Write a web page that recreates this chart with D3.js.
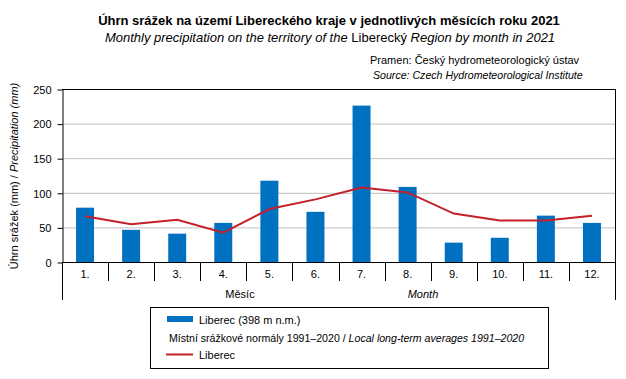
<!DOCTYPE html>
<html><head><meta charset="utf-8">
<script src="https://cdn.jsdelivr.net/npm/d3@7"></script>
<style>body{margin:0;background:#fff}svg text{font-family:"Liberation Sans",Arial,sans-serif;fill:#000}</style>
</head><body><svg id="c" width="626" height="379"></svg>
<script>
const months = ["1.","2.","3.","4.","5.","6.","7.","8.","9.","10.","11.","12."];
const precip2021 = [78.5,46.5,41,56.5,117.5,72.5,226,108.5,28,35,67,56.5];
const normals = [66,54.5,61,42.5,76.5,90.5,107.5,100.5,70,60,60,67];
const yTicks = [0,50,100,150,200,250];

const svg = d3.select("#c");
const L=62,R=615,T=89,B=262;
const x = d3.scaleBand().domain(months).range([L,R]).paddingInner(0).paddingOuter(0);
const y = d3.scaleLinear().domain([0,250]).range([B,T]);

svg.append("g").selectAll("line").data(yTicks.filter(d=>d>0&&d<250)).join("line")
  .attr("x1",L).attr("x2",R).attr("y1",d=>y(d)+0.5).attr("y2",d=>y(d)+0.5)
  .attr("stroke","#bfbfbf").attr("stroke-width",1);

const bw = x.bandwidth()*0.39;
svg.append("g").selectAll("rect").data(precip2021).join("rect")
  .attr("x",(d,i)=>x(months[i])+x.bandwidth()/2-bw/2)
  .attr("width",bw).attr("y",d=>y(d)).attr("height",d=>B-y(d))
  .attr("fill","#0070c0");

svg.append("path").datum(normals)
  .attr("d",d3.line().x((d,i)=>x(months[i])+x.bandwidth()/2).y(d=>y(d)))
  .attr("fill","none").attr("stroke","#c3202a").attr("stroke-width",2);

svg.append("line").attr("x1",L).attr("x2",R+0.5).attr("y1",T+0.5).attr("y2",T+0.5).attr("stroke","#000");
svg.append("line").attr("x1",R+0.5).attr("x2",R+0.5).attr("y1",T).attr("y2",B).attr("stroke","#000");

const ya = svg.append("g").attr("transform",`translate(${L+0.5},0.5)`)
  .call(d3.axisLeft(y).tickValues(yTicks).tickSize(5).tickPadding(6).tickSizeOuter(0));
ya.select(".domain").attr("stroke","#000");
ya.selectAll("text").style("font-size","11px").attr("dy","0.35em");

svg.append("line").attr("x1",L).attr("x2",R+1).attr("y1",B+0.5).attr("y2",B+0.5).attr("stroke","#000");
const divs = months.map(m=>x(m)).concat([R]);
svg.append("g").selectAll("line").data(divs).join("line")
  .attr("x1",d=>Math.round(d)+0.5).attr("x2",d=>Math.round(d)+0.5)
  .attr("y1",B).attr("y2",(d,i)=>(i===0||i===divs.length-1)?300:281)
  .attr("stroke","#000");
svg.append("g").selectAll("text").data(months).join("text")
  .attr("x",m=>x(m)+x.bandwidth()/2).attr("y",278).attr("text-anchor","middle")
  .style("font-size","11px").text(d=>d);

svg.append("text").attr("x",240).attr("y",298).attr("text-anchor","middle").style("font-size","11px").text("Měsíc");
svg.append("text").attr("x",423).attr("y",298).attr("text-anchor","middle").style("font-size","11px").style("font-style","italic").text("Month");

const yt = svg.append("text").attr("transform","translate(18,176) rotate(-90)").attr("text-anchor","middle").style("font-size","11px");
yt.append("tspan").text("Úhrn srážek (mm) / ");
yt.append("tspan").style("font-style","italic").text("Precipitation (mm)");

svg.append("text").attr("x",329).attr("y",25).attr("text-anchor","middle").style("font-size","13px").style("font-weight","bold").text("Úhrn srážek na území Libereckého kraje v jednotlivých měsících roku 2021");
const st = svg.append("text").attr("x",330).attr("y",42).attr("text-anchor","middle").style("font-size","13px");
st.append("tspan").style("font-style","italic").text("Monthly precipitation on the territory of the ");
st.append("tspan").text("Liberecký");
st.append("tspan").style("font-style","italic").text(" Region by month in 2021");

svg.append("text").attr("x",370).attr("y",64).style("font-size","11px").text("Pramen: Český hydrometeorologický ústav");
svg.append("text").attr("x",373).attr("y",79).style("font-size","10.6px").style("font-style","italic").text("Source: Czech Hydrometeorological Institute");

svg.append("rect").attr("x",150.5).attr("y",307.5).attr("width",398).attr("height",61).attr("fill","none").attr("stroke","#000");
svg.append("rect").attr("x",167).attr("y",316).attr("width",26).attr("height",6).attr("fill","#0070c0");
svg.append("text").attr("x",199).attr("y",324).style("font-size","11px").text("Liberec (398 m n.m.)");
const lt = svg.append("text").attr("x",169).attr("y",342).style("font-size","10.6px");
lt.append("tspan").text("Místní srážkové normály 1991–2020 / ");
lt.append("tspan").style("font-style","italic").text("Local long-term averages 1991–2020");
svg.append("line").attr("x1",166).attr("x2",193).attr("y1",354.5).attr("y2",354.5).attr("stroke","#c3202a").attr("stroke-width",2);
svg.append("text").attr("x",199).attr("y",359).style("font-size","11px").text("Liberec");
</script></body></html>
